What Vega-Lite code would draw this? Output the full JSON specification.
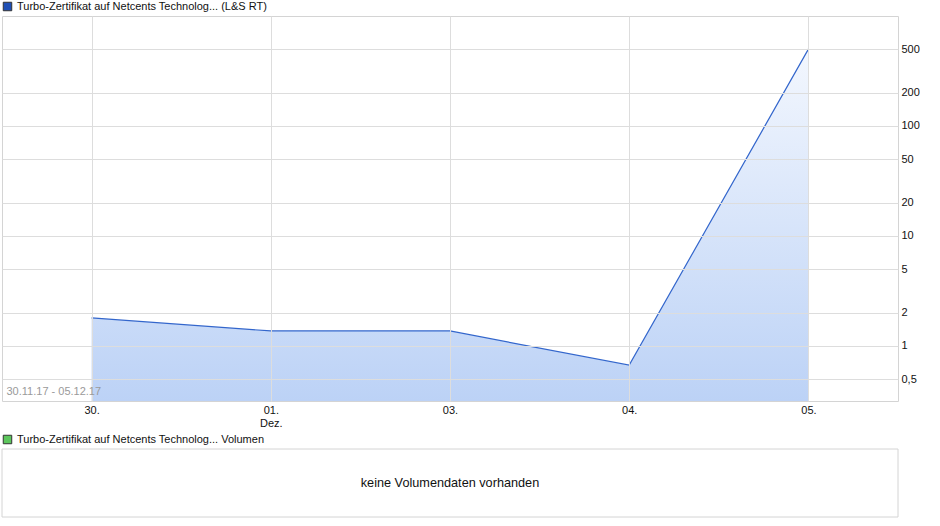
{
  "$schema": "https://vega.github.io/schema/vega-lite/v6.json",
  "padding": {"left": 1, "top": 0, "right": 0, "bottom": 0},
  "background": "white",
  "spacing": 5,
  "config": {
    "font": "Liberation Sans",
    "view": {"stroke": "#d4d4d4", "strokeWidth": 1},
    "legend": {"labelFont": "Liberation Sans", "labelFontSize": 11, "labelColor": "#111111", "labelLimit": 600, "symbolType": "square", "symbolSize": 72, "symbolStrokeColor": "#333333", "symbolStrokeWidth": 1, "symbolOffset": 0, "padding": 0, "offset": 3, "orient": "top"}
  },
  "vconcat": [
    {
      "width": 896,
      "height": 385,
      "data": {"values": [
        {"day": "30.", "price": 1.8},
        {"day": "01.", "price": 1.37},
        {"day": "03.", "price": 1.37},
        {"day": "04.", "price": 0.67},
        {"day": "05.", "price": 500}
      ]},
      "encoding": {
        "x": {"field": "day", "type": "ordinal", "sort": null,
          "scale": {"type": "point", "padding": 0.5},
          "axis": {"title": "30.11.17 - 05.12.17", "titleX": 4, "titleY": -5, "titleAlign": "left", "titleAnchor": null, "titleBaseline": "bottom", "titleColor": "#9a9a9a", "titleFontSize": 11, "titleFontWeight": "normal",
            "labelAngle": 0, "labelFontSize": 11, "labelColor": "#111111", "labelPadding": 3, "ticks": false, "domain": false,
            "grid": true, "gridColor": "#dddddd", "zindex": 1,
            "labelExpr": "datum.label == '01.' ? ['01.', 'Dez.'] : datum.label"}},
        "y": {"field": "price", "type": "quantitative",
          "scale": {"type": "log", "domain": [0.3162, 1000], "nice": false},
          "axis": {"orient": "right", "title": null, "values": [0.5, 1, 2, 5, 10, 20, 50, 100, 200, 500], "format": ".1~f",
            "labelExpr": "replace(datum.label, '.', ',')", "labelFontSize": 11, "labelColor": "#111111", "labelPadding": 3,
            "ticks": false, "domain": false, "grid": true, "gridColor": "#dddddd", "zindex": 1}}
      },
      "layer": [
        {
          "mark": {"type": "area", "line": false, "fill": {"gradient": "linear", "x1": 0, "y1": 0, "x2": 0, "y2": 1, "stops": [{"offset": 0, "color": "#f3f7fe"}, {"offset": 1, "color": "#bcd2f6"}]}},
          "encoding": {"y2": {"datum": 0.3162}}
        },
        {
          "mark": {"type": "line", "color": "#3366cc", "strokeWidth": 1.2}
        },
        {
          "mark": {"type": "point", "filled": true, "size": 0, "opacity": 1},
          "encoding": {
            "x": {"value": 0}, "y": {"value": 0},
            "color": {"datum": "Turbo-Zertifikat auf Netcents Technolog... (L&S RT)", "type": "nominal", "scale": {"range": ["#1f4fb5"]}, "legend": {"title": null}}
          }
        }
      ]
    },
    {
      "width": 896,
      "height": 68,
      "data": {"values": [{"msg": "keine Volumendaten vorhanden"}]},
      "layer": [
        {
          "mark": {"type": "rect", "fill": null, "fillOpacity": 0, "stroke": "#d4d4d4", "strokeWidth": 1}
        },
        {
          "mark": {"type": "text", "fontSize": 12.7, "color": "#111111", "font": "Liberation Sans"},
          "encoding": {"text": {"field": "msg"}}
        },
        {
          "mark": {"type": "point", "filled": true, "size": 0, "opacity": 1},
          "encoding": {
            "color": {"datum": "Turbo-Zertifikat auf Netcents Technolog... Volumen", "type": "nominal", "scale": {"range": ["#5cc65c"]}, "legend": {"title": null}}
          }
        }
      ]
    }
  ],
  "resolve": {"scale": {"color": "independent"}, "legend": {"color": "independent"}}
}
